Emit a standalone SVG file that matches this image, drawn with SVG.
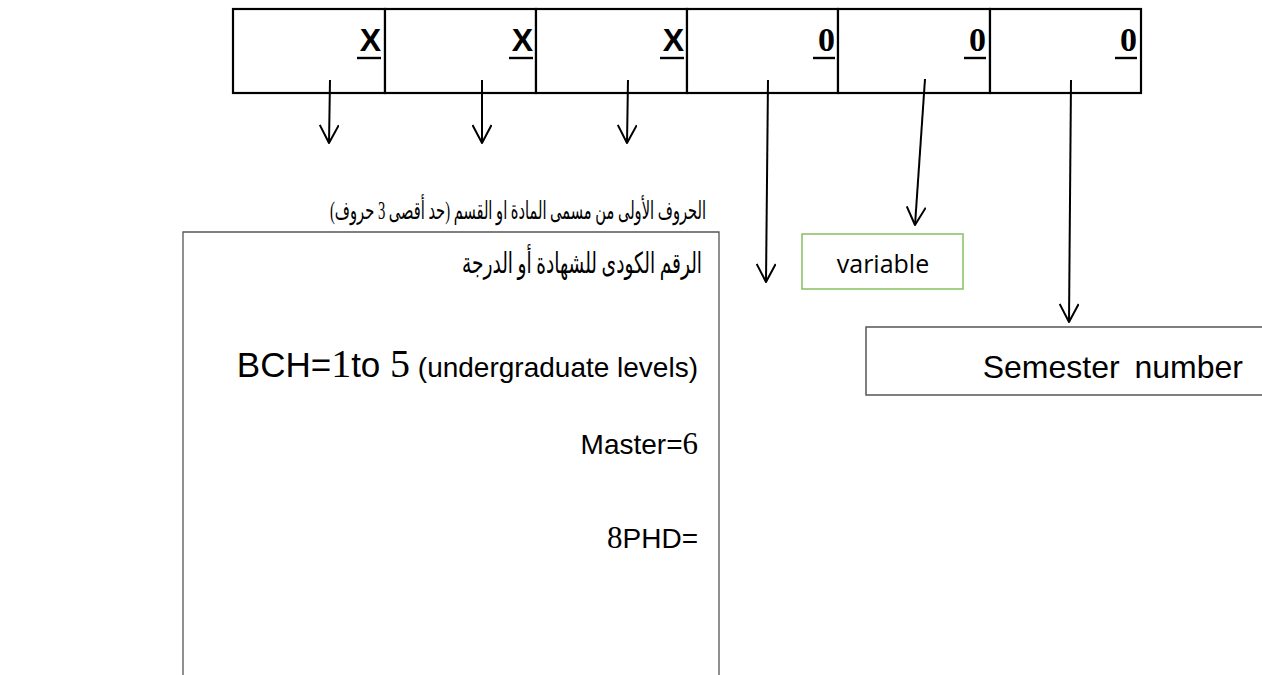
<svg xmlns="http://www.w3.org/2000/svg" width="1262" height="675" viewBox="0 0 1262 675">
<defs>
<style>
.cell{fill:#fff;stroke:#000;stroke-width:2.2}
.xl{font-family:"Liberation Sans",Arial,sans-serif;font-weight:bold;font-size:32px;fill:#000}
.zl{font-family:"Liberation Serif","Times New Roman",serif;font-weight:bold;font-size:34px;fill:#000}
.ul{stroke:#000;stroke-width:2.4}
.ar{font-family:"Liberation Serif","DejaVu Sans",sans-serif;fill:#000}
.en{font-family:"Liberation Sans",Arial,sans-serif;fill:#000}
.sr{font-family:"Liberation Serif","Times New Roman",serif}
.conn{fill:none;stroke:#000;stroke-width:2}
</style>
<marker id="ah" viewBox="0 0 20 20" refX="19" refY="10" markerWidth="20" markerHeight="20" markerUnits="userSpaceOnUse" orient="auto">
<path d="M1 0.5 L19 10 L1 19.5" fill="none" stroke="#000" stroke-width="2" stroke-linejoin="round"/>
</marker>
</defs>
<rect width="1262" height="675" fill="#fff"/>
<g id="code-table">
<rect class="cell" x="233" y="9" width="152" height="84"/>
<rect class="cell" x="385" y="9" width="151" height="84"/>
<rect class="cell" x="536" y="9" width="151" height="84"/>
<rect class="cell" x="687" y="9" width="151" height="84"/>
<rect class="cell" x="838" y="9" width="152" height="84"/>
<rect class="cell" x="990" y="9" width="151" height="84"/>
<text class="xl" x="381" y="51" text-anchor="end">X</text>
<text class="xl" x="533" y="51" text-anchor="end">X</text>
<text class="xl" x="684" y="51" text-anchor="end">X</text>
<text class="zl" x="835" y="51" text-anchor="end">0</text>
<text class="zl" x="986" y="51" text-anchor="end">0</text>
<text class="zl" x="1137" y="51" text-anchor="end">0</text>
<line class="ul" x1="357" y1="58" x2="381" y2="58"/>
<line class="ul" x1="509" y1="58" x2="533" y2="58"/>
<line class="ul" x1="660" y1="58" x2="684" y2="58"/>
<line class="ul" x1="813" y1="58" x2="835" y2="58"/>
<line class="ul" x1="964" y1="58" x2="986" y2="58"/>
<line class="ul" x1="1115" y1="58" x2="1137" y2="58"/>
</g>
<g id="connectors">
<line class="conn" x1="330" y1="80" x2="329" y2="143" marker-end="url(#ah)"/>
<line class="conn" x1="482" y1="80" x2="482" y2="143" marker-end="url(#ah)"/>
<line class="conn" x1="628" y1="80" x2="627" y2="143" marker-end="url(#ah)"/>
<line class="conn" x1="768" y1="80" x2="766" y2="282" marker-end="url(#ah)"/>
<line class="conn" x1="925" y1="79" x2="915" y2="225" marker-end="url(#ah)"/>
<line class="conn" x1="1071" y1="80" x2="1069" y2="322" marker-end="url(#ah)"/>
</g>
<g id="letters-label">
<text class="ar" x="706" y="219" font-size="25" text-anchor="start" direction="rtl" textLength="376" lengthAdjust="spacingAndGlyphs">الحروف الأولى من مسمى المادة او القسم (حد أقصى 3 حروف)</text>
</g>
<g id="degree-box">
<path d="M183 680 V232 H719 V680" fill="#fff" stroke="#555" stroke-width="1.3"/>
<text class="ar" x="702" y="273" font-size="29" text-anchor="start" direction="rtl" textLength="240" lengthAdjust="spacingAndGlyphs">الرقم الكودى للشهادة أو الدرجة</text>
<text class="en" x="698" y="377" font-size="35" text-anchor="end">BCH=<tspan class="sr" font-size="40">1</tspan>to <tspan class="sr" font-size="40">5</tspan><tspan font-size="28"> (undergraduate levels)</tspan></text>
<text class="en" x="698" y="454" font-size="28" text-anchor="end">Master=<tspan class="sr" font-size="31">6</tspan></text>
<text class="en" x="698" y="548" font-size="28" text-anchor="end"><tspan class="sr" font-size="31">8</tspan>PHD=</text>
</g>
<g id="variable-box">
<rect x="802" y="234" width="161" height="55" fill="#fff" stroke="#8cc36a" stroke-width="1.6"/>
<text x="883" y="273" font-family="'Open Sans','Noto Sans',sans-serif" font-size="25" text-anchor="middle" fill="#000">variable</text>
</g>
<g id="semester-box">
<path d="M1264 327 H866 V395 H1264" fill="#fff" stroke="#555" stroke-width="1.5"/>
<text class="en" x="1243" y="378" font-size="32" text-anchor="end" word-spacing="6">Semester number</text>
</g>
</svg>
